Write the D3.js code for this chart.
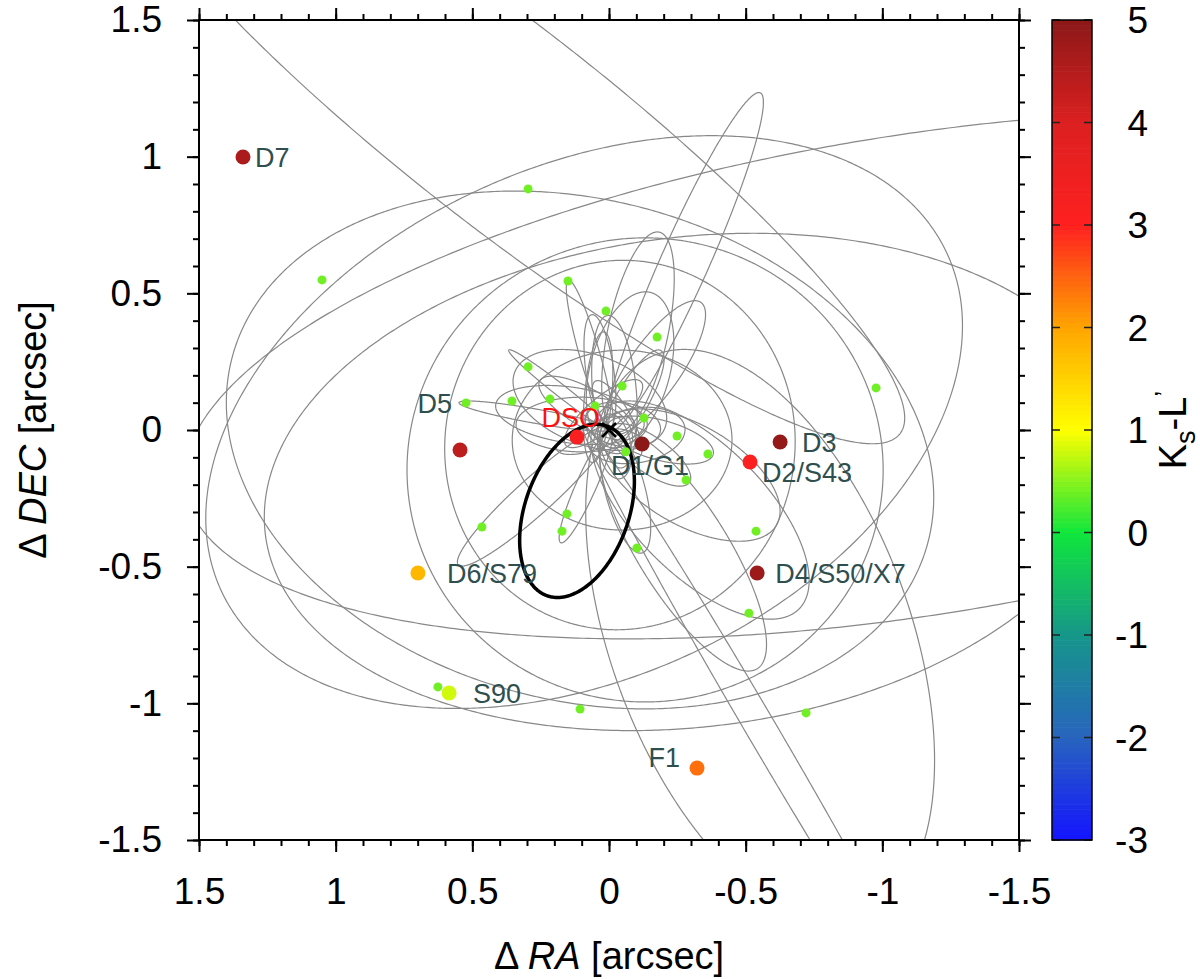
<!DOCTYPE html>
<html lang="en">
<head>
<meta charset="utf-8">
<title>orbits</title>
<script src="https://d3js.org/d3.v7.min.js"></script>
<style>
  body { margin: 0; background: #fff; }
  text { font-family: "Liberation Sans", Arial, Helvetica, sans-serif; }
</style>
</head>
<body>
<svg id="canvas" width="1200" height="979"></svg>
<script>
// axis ticks
const raTicks = [1.5, 1, 0.5, 0, -0.5, -1, -1.5];
const decTicks = [-1.5, -1, -0.5, 0, 0.5, 1, 1.5];
const minorTicks = d3.range(-15, 16).map(i => i / 10);
const klTicks = [-3, -2, -1, 0, 1, 2, 3, 4, 5];
const klColors = ["#1414ff", "#2864be", "#16968a", "#10e63c", "#ffff00", "#ffa500", "#ff2020", "#dc2020", "#8c1818"];

// projected orbits: [dRA, dDEC of centre, semi-major, semi-minor (arcsec), major axis angle (deg)]
const orbits = [
    [0.091, 0.029, 1.464, 0.933, -25],
    [-0.304, -0.190, 1.573, 0.896, -7],
    [0.106, -0.073, 1.317, 0.915, 15],
    [-1.123, 0.201, 2.708, 0.878, -9],
    [-0.132, -0.146, 0.871, 0.849, 0],
    [-0.040, -0.055, 0.677, 0.640, -80],
    [0.377, 1.112, 1.829, 0.366, 38],
    [-0.278, 0.615, 0.677, 0.088, -66],
    [-0.106, 0.359, 0.373, 0.110, -78],
    [-0.168, 0.227, 0.293, 0.095, -55],
    [-0.553, -1.087, 1.281, 0.055, 59.6],
    [-0.271, -0.439, 0.512, 0.165, 58],
    [-0.296, -0.165, 0.366, 0.183, 30],
    [0.271, -0.241, 0.377, 0.066, -42],
    [0.084, -0.205, 0.227, 0.037, -66],
    [0.271, 0.051, 0.282, 0.026, 10],
    [0.179, 0.146, 0.238, 0.022, 38],
    [0.143, 0.055, 0.274, 0.102, 8],
    [0.070, 0.110, 0.293, 0.165, 20],
    [-0.048, -0.037, 0.402, 0.329, 0],
    [-0.077, 0.220, 0.293, 0.146, -75],
    [0.033, 0.212, 0.212, 0.051, -98],
    [-0.187, -0.037, 0.201, 0.073, 15],
    [-0.150, -0.091, 0.176, 0.066, 35],
    [-0.059, -0.220, 0.238, 0.073, 75],
    [-0.333, -0.293, 0.512, 0.238, 45],
    [0.070, 0.274, 0.285, 0.037, 74],
    [-0.553, -0.754, 1.098, 0.549, 70],
    [-0.03, 0.04, 0.16, 0.05, 60],
    [0.02, 0.06, 0.18, 0.06, -40],
    [-0.05, 0.02, 0.14, 0.08, 10],
    [0.05, -0.02, 0.15, 0.05, -20],
    [-0.02, -0.06, 0.12, 0.06, 80],
    [0.08, 0.08, 0.20, 0.07, 30],
    [-0.08, 0.10, 0.22, 0.06, -60],
    [0.04, 0.12, 0.24, 0.05, -85],
    [-0.10, -0.02, 0.18, 0.10, -10],
    [0.00, 0.00, 0.10, 0.07, 45],
    [0.10, 0.02, 0.24, 0.10, 0],
    [-0.02, 0.14, 0.28, 0.08, -95]
];
const dsoOrbit = [0.117, -0.296, 0.329, 0.190, -70.6];

// S-stars (small green dots)
const sRA = [0.296, 1.050, 0.150, 0.011, -0.176, -0.977, 0.296, 0.523, 0.355, 0.216, 0.051, -0.048, -0.128,
    -0.249, -0.362, -0.282, -0.062, 0.154, 0.172, 0.465, -0.102, -0.538, -0.512, -0.721, 0.626, 0.106];
const sDEC = [0.882, 0.549, 0.545, 0.435, 0.340, 0.154, 0.231, 0.099, 0.106, 0.113, 0.088, 0.161, 0.044,
    -0.022, -0.088, -0.183, -0.080, -0.307, -0.370, -0.355, -0.432, -0.370, -0.670, -1.035, -0.940, -1.021];
const sKL = 0.4;

// labelled sources
const starNames = ["D7", "D5", "DSO", "D1/G1", "D3", "D2/S43", "D4/S50/X7", "D6/S79", "S90", "F1"];
const starRA = [1.339, 0.545, 0.117, -0.121, -0.626, -0.516, -0.542, 0.699, 0.585, -0.322];
const starDEC = [0.999, -0.073, -0.026, -0.051, -0.044, -0.117, -0.523, -0.523, -0.962, -1.237];
const starKL = [4.6, 4.4, 3.2, 5.0, 4.9, 3.1, 4.8, 1.8, 0.8, 2.4];

const labelStyle = {
    "D7": { dx: 12, dy: 0, anchor: "start" },
    "D5": { dx: -8, dy: -47, anchor: "end" },
    "DSO": { dx: 23, dy: -20, anchor: "end", fill: "#ff1010" },
    "D1/G1": { dx: -31, dy: 21, anchor: "start" },
    "D3": { dx: 22, dy: 0, anchor: "start" },
    "D2/S43": { dx: 12, dy: 10, anchor: "start" },
    "D4/S50/X7": { dx: 18, dy: 0, anchor: "start" },
    "D6/S79": { dx: 29, dy: 0, anchor: "start" },
    "S90": { dx: 24, dy: 0, anchor: "start" },
    "F1": { dx: -17, dy: -11, anchor: "end" }
};

const svg = d3.select("#canvas");
const pLeft = 199, pRight = 1019, pTop = 20, pBottom = 840;

const x = d3.scaleLinear().domain([1.5, -1.5]).range([pLeft, pRight]);
const y = d3.scaleLinear().domain([-1.5, 1.5]).range([pBottom, pTop]);
const color = d3.scaleLinear().domain(klTicks).range(klColors);

svg.append("clipPath").attr("id", "plotclip")
    .append("rect").attr("x", pLeft).attr("y", pTop)
    .attr("width", pRight - pLeft).attr("height", pBottom - pTop);

// ellipse outline in sky coordinates
function ellipsePts(o, step) {
    const [ra, dec, a, b, th] = o;
    const t = th * Math.PI / 180;
    return d3.range(0, 360, step).map(deg => {
        const e = deg * Math.PI / 180;
        const u = a * Math.cos(e), v = b * Math.sin(e);
        return [ra + u * Math.cos(t) - v * Math.sin(t), dec + u * Math.sin(t) + v * Math.cos(t)];
    });
}
const line = d3.line().x(p => x(p[0])).y(p => y(p[1])).curve(d3.curveLinearClosed);

const plot = svg.append("g").attr("clip-path", "url(#plotclip)");

plot.selectAll(".orbit")
    .data(orbits)
    .join("path")
    .attr("class", "orbit")
    .attr("d", d => line(ellipsePts(d, 0.5)))
    .attr("fill", "none")
    .attr("stroke", "#888")
    .attr("stroke-width", 1.2);

plot.append("path")
    .attr("d", line(ellipsePts(dsoOrbit, 1)))
    .attr("fill", "none")
    .attr("stroke", "black")
    .attr("stroke-width", 3.5);

// S-stars
plot.selectAll(".sstar")
    .data(sRA.map((r, i) => [r, sDEC[i]]))
    .join("circle")
    .attr("class", "sstar")
    .attr("cx", d => x(d[0]))
    .attr("cy", d => y(d[1]))
    .attr("r", 4.5)
    .attr("fill", color(sKL));

// Sgr A* cross
const c0 = [x(0), y(0)];
plot.append("path")
    .attr("d", `M${c0[0] - 7},${c0[1] - 7}L${c0[0] + 7},${c0[1] + 7}M${c0[0] - 7},${c0[1] + 7}L${c0[0] + 7},${c0[1] - 7}`)
    .attr("stroke", "black")
    .attr("stroke-width", 2.5);

// labelled sources
const stars = starNames.map((n, i) => ({ name: n, ra: starRA[i], dec: starDEC[i], kl: starKL[i] }));
plot.selectAll(".star")
    .data(stars)
    .join("circle")
    .attr("class", "star")
    .attr("cx", d => x(d.ra))
    .attr("cy", d => y(d.dec))
    .attr("r", 7.5)
    .attr("fill", d => color(d.kl));

plot.selectAll(".lbl")
    .data(stars)
    .join("text")
    .attr("class", "lbl")
    .attr("x", d => x(d.ra) + labelStyle[d.name].dx)
    .attr("y", d => y(d.dec) + labelStyle[d.name].dy)
    .attr("dy", "0.36em")
    .attr("text-anchor", d => labelStyle[d.name].anchor)
    .attr("font-size", 27)
    .attr("fill", d => labelStyle[d.name].fill || "#2f4f4f")
    .text(d => d.name);

// axes
const fmt = d => String(+d.toFixed(1));
function styleAxis(g) {
    g.select(".domain").remove();
    g.selectAll("line").attr("stroke", "black").attr("stroke-width", 2);
    g.selectAll("text").attr("font-size", 37).attr("fill", "black")
        .attr("font-family", "'Liberation Sans', Arial, Helvetica, sans-serif");
}
svg.append("g").attr("transform", `translate(0,${pBottom})`)
    .call(d3.axisBottom(x).tickValues(minorTicks).tickSize(6).tickFormat("")).call(styleAxis);
svg.append("g").attr("transform", `translate(0,${pBottom})`)
    .call(d3.axisBottom(x).tickValues(raTicks).tickSize(12).tickPadding(26).tickFormat(fmt)).call(styleAxis);
svg.append("g").attr("transform", `translate(0,${pTop})`)
    .call(d3.axisTop(x).tickValues(minorTicks).tickSize(6).tickFormat("")).call(styleAxis);
svg.append("g").attr("transform", `translate(0,${pTop})`)
    .call(d3.axisTop(x).tickValues(raTicks).tickSize(12).tickFormat("")).call(styleAxis);
svg.append("g").attr("transform", `translate(${pLeft},0)`)
    .call(d3.axisLeft(y).tickValues(minorTicks).tickSize(6).tickFormat("")).call(styleAxis);
svg.append("g").attr("transform", `translate(${pLeft},0)`)
    .call(d3.axisLeft(y).tickValues(decTicks).tickSize(12).tickPadding(25).tickFormat(fmt)).call(styleAxis);
svg.append("g").attr("transform", `translate(${pRight},0)`)
    .call(d3.axisRight(y).tickValues(minorTicks).tickSize(6).tickFormat("")).call(styleAxis);
svg.append("g").attr("transform", `translate(${pRight},0)`)
    .call(d3.axisRight(y).tickValues(decTicks).tickSize(12).tickFormat("")).call(styleAxis);

svg.append("rect")
    .attr("x", pLeft).attr("y", pTop)
    .attr("width", pRight - pLeft).attr("height", pBottom - pTop)
    .attr("fill", "none").attr("stroke", "black").attr("stroke-width", 2);

const xl = svg.append("text")
    .attr("x", (pLeft + pRight) / 2).attr("y", 969)
    .attr("text-anchor", "middle").attr("font-size", 38);
xl.append("tspan").text("\u0394 ");
xl.append("tspan").attr("font-style", "italic").text("RA");
xl.append("tspan").text(" [arcsec]");

const yl = svg.append("text")
    .attr("transform", `translate(46,${(pTop + pBottom) / 2}) rotate(-90)`)
    .attr("text-anchor", "middle").attr("font-size", 38);
yl.append("tspan").text("\u0394 ");
yl.append("tspan").attr("font-style", "italic").text("DEC");
yl.append("tspan").text(" [arcsec]");

// colour bar
const cbLeft = 1052, cbRight = 1092;
const cy = d3.scaleLinear().domain([-3, 5]).range([pBottom, pTop]);
const bands = d3.range(-3, 5, 0.05);
svg.append("g").selectAll("rect")
    .data(bands)
    .join("rect")
    .attr("x", cbLeft)
    .attr("y", d => cy(d + 0.05))
    .attr("width", cbRight - cbLeft)
    .attr("height", d => cy(d) - cy(d + 0.05) + 0.6)
    .attr("fill", d => color(d + 0.025));

const cbTicks = svg.append("g");
cbTicks.selectAll(".cbl")
    .data(klTicks)
    .join("path")
    .attr("d", d => `M${cbLeft},${cy(d)}h8M${cbRight},${cy(d)}h-8`)
    .attr("stroke", "#222").attr("stroke-width", 1.5);
cbTicks.selectAll("text")
    .data(klTicks)
    .join("text")
    .attr("x", 1148).attr("y", d => cy(d)).attr("dy", "0.36em")
    .attr("text-anchor", "end").attr("font-size", 37)
    .text(d => String(d));

svg.append("rect")
    .attr("x", cbLeft).attr("y", pTop)
    .attr("width", cbRight - cbLeft).attr("height", pBottom - pTop)
    .attr("fill", "none").attr("stroke", "black").attr("stroke-width", 1.5);

const cl = svg.append("text")
    .attr("transform", `translate(1186,${(pTop + pBottom) / 2}) rotate(-90)`)
    .attr("text-anchor", "middle").attr("font-size", 38);
cl.append("tspan").text("K");
cl.append("tspan").attr("font-size", 27).attr("dy", 9).text("s");
cl.append("tspan").attr("dy", -9).text("-L");
cl.append("tspan").attr("font-size", 27).attr("dy", -12).text("\u2019");
</script>
</body>
</html>
